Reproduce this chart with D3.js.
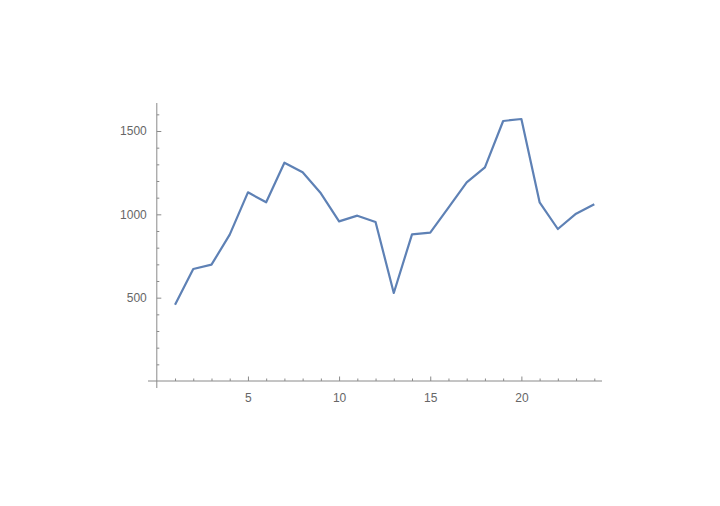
<!DOCTYPE html>
<html><head><meta charset="utf-8">
<script src="https://cdn.jsdelivr.net/npm/d3@7"></script>
<style>body{margin:0;background:#fff;} svg{display:block;}</style>
</head><body>
<svg id="c" width="720" height="506"></svg>
<script>
const xs = [1,2,3,4,5,6,7,8,9,10,11,12,13,14,15,16,17,18,19,20,21,22,23,24];
const values = [458,672,698,878,1132,1072,1310,1252,1126,958,992,954,528,880,890,1040,1192,1282,1560,1572,1072,912,1004,1060];
const xMajor = [5,10,15,20];
const yMajor = [500,1000,1500];
const xMinor = d3.range(1,25).filter(d=>!xMajor.includes(d));
const yMinor = d3.range(100,1700,100).filter(d=>!yMajor.includes(d));

const svg = d3.select("#c");
const x = d3.scaleLinear().domain([0,24]).range([156.8,594.3]);
const y = d3.scaleLinear().domain([0,1500]).range([381,131]);
const axisCol = "#8a8a8a", textCol = "#666";

// axis lines
svg.append("line").attr("x1",148).attr("x2",602).attr("y1",y(0)).attr("y2",y(0)).attr("stroke",axisCol).attr("stroke-width",1);
svg.append("line").attr("x1",x(0)).attr("x2",x(0)).attr("y1",103).attr("y2",388).attr("stroke",axisCol).attr("stroke-width",1);

function style(g){
  g.select(".domain").remove();
  g.selectAll("line").attr("stroke",axisCol);
  g.selectAll("text").attr("fill",textCol).style("font-family","'Liberation Sans', Arial, sans-serif").style("font-size","12px");
}
// x ticks (pointing up)
svg.append("g").attr("transform",`translate(0,${y(0)})`)
  .call(d3.axisBottom(x).tickValues(xMajor).tickSize(-4.5).tickPadding(12).tickFormat(d3.format("d"))).call(style);
svg.append("g").attr("transform",`translate(0,${y(0)})`)
  .call(d3.axisBottom(x).tickValues(xMinor).tickSize(-2.5).tickFormat("")).call(style);
// y ticks (pointing right)
svg.append("g").attr("transform",`translate(${x(0)},0)`)
  .call(d3.axisLeft(y).tickValues(yMajor).tickSize(-4.5).tickPadding(10).tickFormat(d3.format("d"))).call(style);
svg.append("g").attr("transform",`translate(${x(0)},0)`)
  .call(d3.axisLeft(y).tickValues(yMinor).tickSize(-2.5).tickFormat("")).call(style);

const line = d3.line().x((d,i)=>x(xs[i])).y(d=>y(d));
svg.append("path").datum(values).attr("d",line).attr("fill","none")
  .attr("stroke","#5e81b5").attr("stroke-width",2.2).attr("stroke-linejoin","round");
</script>
</body></html>
